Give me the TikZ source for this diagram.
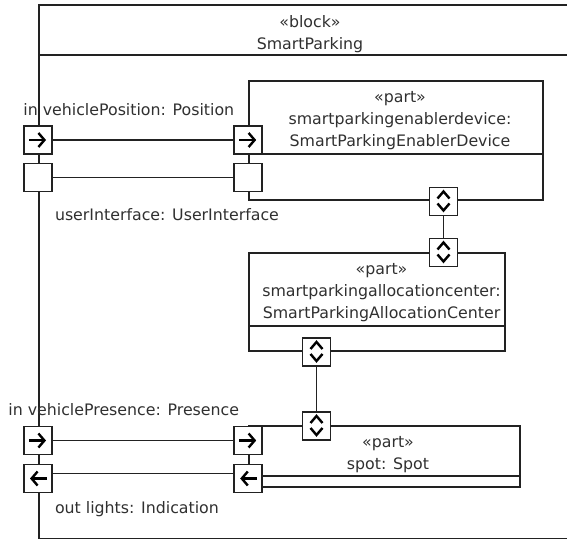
\documentclass[tikz,border=0pt]{standalone}
\usepackage{fontspec}
\setmainfont{DejaVu Sans}
\usepackage{tikz}
\usetikzlibrary{positioning,arrows.meta,calc}
\definecolor{linec}{HTML}{222222}
\definecolor{textc}{HTML}{303030}
\newcommand{\umlfont}{\fontsize{15.8}{22}\selectfont}
\newcommand{\firstline}{\rule{0pt}{15pt}}
\tikzset{
  blockline/.style={draw=linec,line width=1.6pt},
  partbox/.style={draw=linec,line width=1.6pt,inner sep=0pt},
  portbox/.style={draw=linec,fill=white,line width=1.6pt,minimum size=28pt,inner sep=0pt},
  glyph/.style={draw=black,line width=2.4pt},
  parttext/.style={anchor=north,inner sep=0pt,align=center,font=\umlfont,text=textc},
  portlabel/.style={anchor=base west,inner sep=0pt,font=\umlfont,text=textc}
}
\newcommand{\flowin}[1]{%
  \draw[glyph,-{Straight Barb[length=6pt,width=14pt]}] ([xshift=-9pt]#1.center) -- ([xshift=8pt]#1.center);
}
\newcommand{\flowout}[1]{%
  \draw[glyph,-{Straight Barb[length=6pt,width=14pt]}] ([xshift=9pt]#1.center) -- ([xshift=-8pt]#1.center);
}
\newcommand{\flowboth}[1]{%
  \draw[glyph] ([shift={(-6pt,3pt)}]#1.center) -- ([yshift=10pt]#1.center) -- ([shift={(6pt,3pt)}]#1.center);
  \draw[glyph] ([shift={(-6pt,-2pt)}]#1.center) -- ([yshift=-9pt]#1.center) -- ([shift={(6pt,-2pt)}]#1.center);
}

\begin{document}
\begin{tikzpicture}[x=1pt,y=-1pt]
  \useasboundingbox (0,0) rectangle (567,540);
  \clip (0,0) rectangle (567,540);
  \draw[blockline] (585,5) -- (39,5) -- (39,538.5) -- (585,538.5);
  \draw[blockline] (39,55) -- (585,55);
  \node[parttext] (blockT) at (310,12) {\firstline«block»\\SmartParking};

  \node[partbox,minimum width=294pt,minimum height=119pt] (sed) at (396,140.5) {};
  \node[partbox,minimum width=256pt,minimum height=98pt] (sac) at (377,302) {};
  \node[partbox,minimum width=271pt,minimum height=61pt] (spot) at (384.5,456.5) {};
  \draw[blockline] (sed.west |- 0,154) -- (sed.east |- 0,154);
  \draw[blockline] (sac.west |- 0,326) -- (sac.east |- 0,326);
  \draw[blockline] (spot.west |- 0,476) -- (spot.east |- 0,476);
  \node[parttext] (sedT) at ([xshift=4pt,yshift=-7pt]sed.north) {\firstline«part»\\smartparkingenablerdevice:\\SmartParkingEnablerDevice};
  \node[parttext] (sacT) at ([xshift=4.5pt,yshift=-7pt]sac.north) {\firstline«part»\\smartparkingallocationcenter:\\SmartParkingAllocationCenter};
  \node[parttext] (spotT) at ([xshift=3.5pt,yshift=-7pt]spot.north) {\firstline«part»\\spot: Spot};

  \foreach \n/\y in {vpOut/140,uiOut/177.5,vprOut/440.5,ltOut/478.5} {\node[portbox] (\n) at (38,\y) {};}
  \node[portbox] (vpIn) at (sed.west |- vpOut) {};
  \node[portbox] (uiIn) at (sed.west |- uiOut) {};
  \node[portbox] (vprIn) at (spot.west |- vprOut) {};
  \node[portbox] (ltIn) at (spot.west |- ltOut) {};
  \node[portbox] (sedP) at (443.5,201.5) {};
  \node[portbox] (sacTop) at (443.5,252.5) {};
  \node[portbox] (sacBot) at (316.5,352) {};
  \node[portbox] (spotP) at (316.5,426) {};

  \draw[blockline] (vpOut) -- (vpIn);
  \draw[blockline] (uiOut) -- (uiIn);
  \draw[blockline] (vprOut) -- (vprIn);
  \draw[blockline] ([yshift=5pt]ltOut.east) -- ([yshift=5pt]ltIn.west);
  \draw[blockline] (sedP) -- (sacTop);
  \draw[blockline] (sacBot) -- (spotP);

  \foreach \p in {vpOut,vpIn,vprOut,vprIn} {\flowin{\p}}
  \foreach \p in {ltOut,ltIn} {\flowout{\p}}
  \foreach \p in {sedP,sacTop,sacBot,spotP} {\flowboth{\p}}

  \node[portlabel] (vpL) at ([yshift=10pt]vpOut.north west) {in vehiclePosition: Position};
  \node[portlabel] (uiL) at ([xshift=2pt,yshift=-28.5pt]uiOut.south east) {userInterface: UserInterface};
  \node[portlabel] (vprL) at ([xshift=-15pt,yshift=10pt]vprOut.north west) {in vehiclePresence: Presence};
  \node[portlabel] (ltL) at ([xshift=2pt,yshift=-20pt]ltOut.south east) {out lights: Indication};
\end{tikzpicture}
\end{document}
